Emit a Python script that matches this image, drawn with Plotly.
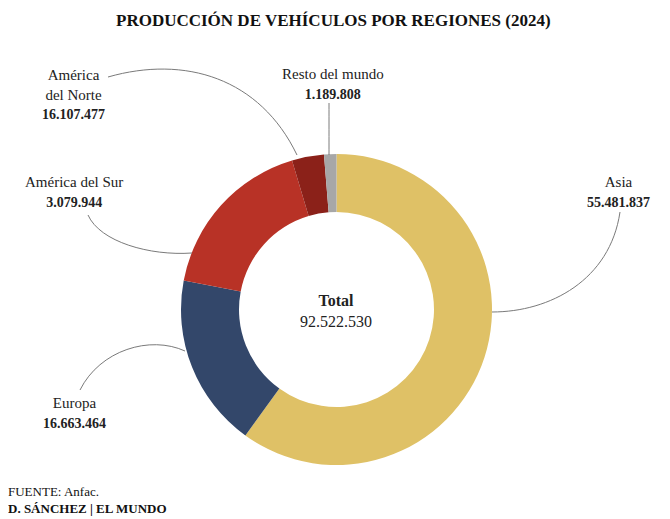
import plotly.graph_objects as go

# Datos: producción de vehículos por regiones (2024)
regiones = ["Asia", "Europa", "América del Norte", "América del Sur", "Resto del mundo"]
valores = [55481837, 16663464, 16107477, 3079944, 1189808]
colores = ["#DFC166", "#33476A", "#B83226", "#8B2119", "#A7A7A7"]
total = 92522530

# la página tiene 8px de margen, así que la figura es algo más pequeña
OFF = 8
W, H = 670 - OFF, 519 - OFF
FUENTE = "Liberation Serif, Times New Roman, serif"


def fmt(n):
    return f"{n:,}".replace(",", ".")


def num(n):
    return '<b><span style="font-size:14px">' + fmt(n) + "</span></b>"


def px(x, y):
    # pixeles de la página -> coordenadas paper
    return (x - OFF) / W, 1 - (y - OFF) / H


x0, y1 = px(181, 154)
x1, y0 = px(492, 465)

fig = go.Figure(go.Pie(
    labels=regiones,
    values=valores,
    marker=dict(colors=colores, line=dict(width=0)),
    hole=0.627,
    sort=False,
    direction="clockwise",
    rotation=0,
    textinfo="none",
    hoverinfo="label+value",
    domain=dict(x=[x0, x1], y=[y0, y1]),
    showlegend=False,
))

# etiquetas (posición en pixeles, texto)
etiquetas = [
    (73, 94, "América<br>del Norte<br>" + num(valores[2])),
    (333, 84, "Resto del mundo<br>" + num(valores[4])),
    (74, 192, "América del Sur<br>" + num(valores[3])),
    (618, 192, "Asia<br>" + num(valores[0])),
    (74, 413, "Europa<br>" + num(valores[1])),
]

anotaciones = []
for x, y, t in etiquetas:
    ax, ay = px(x, y)
    anotaciones.append(dict(x=ax, y=ay, xref="paper", yref="paper", text=t,
                            xanchor="center", yanchor="middle",
                            showarrow=False, align="center",
                            font=dict(family=FUENTE, size=15, color="#222")))

cx, cy = px(336, 311)
anotaciones.append(dict(x=cx, y=cy, xref="paper", yref="paper",
                        xanchor="center", yanchor="middle",
                        text="<b>Total</b><br>" + fmt(total), showarrow=False,
                        font=dict(family=FUENTE, size=16, color="#222")))

tx, ty = px(333, 20)
anotaciones.append(dict(x=tx, y=ty, xref="paper", yref="paper",
                        xanchor="center", yanchor="middle",
                        text="<b>PRODUCCIÓN DE VEHÍCULOS POR REGIONES (2024)</b>",
                        showarrow=False,
                        font=dict(family=FUENTE, size=17, color="#111")))

fx, fy = px(6, 500)
anotaciones.append(dict(x=fx, y=fy, xref="paper", yref="paper",
                        xanchor="left", yanchor="middle",
                        text="FUENTE: Anfac.<br><b>D. SÁNCHEZ | EL MUNDO</b>",
                        showarrow=False, align="left",
                        font=dict(family=FUENTE, size=13, color="#111")))

# líneas guía curvas (pixeles)
guias = [
    [(108, 77), (185, 55), (260, 78), (297, 155)],
    [(88, 215), (100, 242), (150, 256), (192, 253)],
    [(80, 390), (100, 350), (150, 335), (185, 351)],
    [(620, 212), (610, 280), (550, 312), (492, 312)],
    [(329, 103), (329, 120), (329, 140), (329, 155)],
]

formas = []
for p in guias:
    pts = [px(x, y) for x, y in p]
    path = "M {} {} C {} {}, {} {}, {} {}".format(*[c for pt in pts for c in pt])
    formas.append(dict(type="path", path=path, xref="paper", yref="paper",
                       line=dict(color="#7a7a7a", width=1)))

fig.update_layout(
    width=W, height=H,
    margin=dict(l=0, r=0, t=0, b=0),
    paper_bgcolor="white",
    plot_bgcolor="white",
    annotations=anotaciones,
    shapes=formas,
)

fig.write_html("out.html")
